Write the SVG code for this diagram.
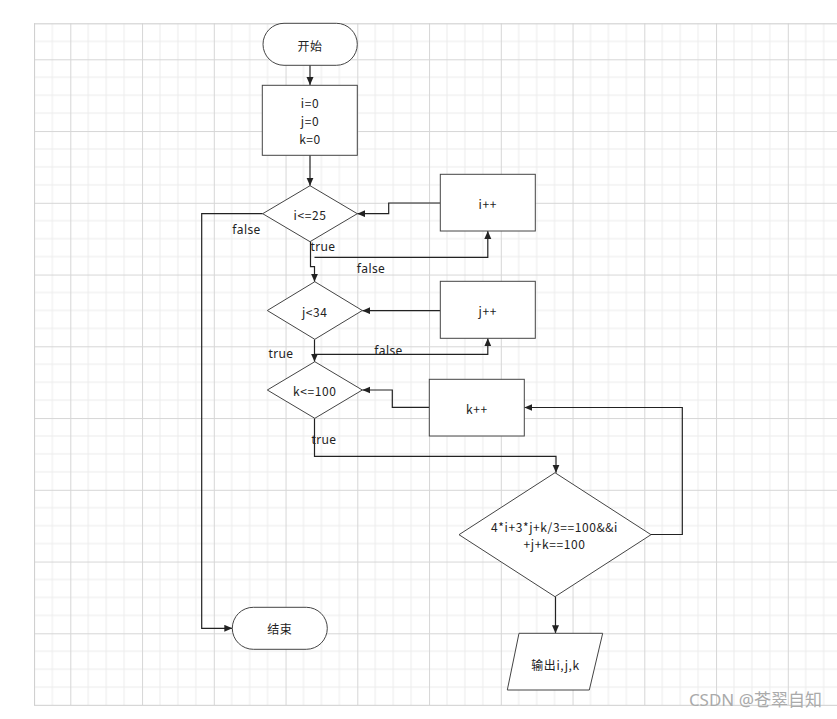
<svg xmlns="http://www.w3.org/2000/svg" width="837" height="719" viewBox="0 0 837 719">
<style>
.shape{fill:#fff;stroke:#444;stroke-width:1}
.conn{fill:none;stroke:#222;stroke-width:1.2}
.t{font-family:"Noto Sans CJK SC","Noto Sans",sans-serif;font-size:12px;fill:#222;text-anchor:middle;dominant-baseline:central;letter-spacing:0.6px}
.lbl{font-family:"Noto Sans","Noto Sans CJK SC",sans-serif;font-size:12px;fill:#222;text-anchor:middle;dominant-baseline:central;letter-spacing:0.4px}
</style>
<defs>
<pattern id="grid" patternUnits="userSpaceOnUse" x="70.3" y="59.3" width="71.75" height="71.75">
<path d="M17.94,0V71.75M35.875,0V71.75M53.81,0V71.75M0,17.94H71.75M0,35.875H71.75M0,53.81H71.75" stroke="#ececec" stroke-width="1" fill="none"/>
<path d="M0.5,0V71.75M0,0.5H71.75" stroke="#d6d6d6" stroke-width="1" fill="none"/>
</pattern>
<marker id="arr" markerUnits="userSpaceOnUse" markerWidth="9" markerHeight="8" refX="8" refY="3.5" orient="auto">
<path d="M0,0 L8,3.5 L0,7 z" fill="#222"/>
</marker>
</defs>
<rect width="837" height="719" fill="#fff"/>
<rect x="34" y="23.3" width="803" height="682" fill="url(#grid)"/>
<path d="M34.5,23.3V705.3M34,23.8H837M34,705.3H837" stroke="#d0d0d0" fill="none"/>

<g id="connectors">
<path class="conn" d="M310,65V85" marker-end="url(#arr)"/>
<path class="conn" d="M310,155V185.7" marker-end="url(#arr)"/>
<path class="conn" d="M440,203H388.7V213.7H357.3" marker-end="url(#arr)"/>
<path class="conn" d="M262.7,213.7H201.7V628.3H232.3" marker-end="url(#arr)"/>
<path class="conn" d="M310.5,241.7V266.7H314.5V281.7" marker-end="url(#arr)"/>
<path class="conn" d="M314.5,257.3H487.8V231" marker-end="url(#arr)"/>
<path class="conn" d="M440.3,310.7H362.3" marker-end="url(#arr)"/>
<path class="conn" d="M314.5,339.3V361.7" marker-end="url(#arr)"/>
<path class="conn" d="M314.5,354.3H487.8V338.3" marker-end="url(#arr)"/>
<path class="conn" d="M429.3,407.3H392.3V390H362.3" marker-end="url(#arr)"/>
<path class="conn" d="M314.5,418.3V456.3H556V472.7" marker-end="url(#arr)"/>
<path class="conn" d="M651,534.5H682.3V407.5H524.3" marker-end="url(#arr)"/>
<path class="conn" d="M555.5,596.7V633.3" marker-end="url(#arr)"/>
<text class="lbl" x="246.5" y="229">false</text>
<text class="lbl" x="323" y="246">true</text>
<text class="lbl" x="371" y="268">false</text>
<text class="lbl" x="281" y="353">true</text>
<text class="lbl" x="388.5" y="350">false</text>
<text class="lbl" x="324" y="439">true</text>
</g>

<g id="start">
<rect class="shape" x="263" y="23.3" width="94.3" height="42" rx="21" ry="21"/>
<text class="t" x="310" y="45">开始</text>
</g>
<g id="init">
<rect class="shape" x="262.3" y="85.3" width="95" height="70"/>
<text class="t" x="310" y="102">i=0</text>
<text class="t" x="310" y="120">j=0</text>
<text class="t" x="310" y="138">k=0</text>
</g>
<g id="cond_i">
<polygon class="shape" points="310,185.7 357.3,213.7 310,241.7 262.7,213.7"/>
<text class="t" x="310" y="214">i&lt;=25</text>
</g>
<g id="inc_i">
<rect class="shape" x="440.3" y="174.3" width="95" height="56.7"/>
<text class="t" x="487.8" y="203">i++</text>
</g>
<g id="cond_j">
<polygon class="shape" points="314.8,281.7 362.3,310.5 314.8,339.3 267.3,310.5"/>
<text class="t" x="314.8" y="311">j&lt;34</text>
</g>
<g id="inc_j">
<rect class="shape" x="440.3" y="281.3" width="95" height="57"/>
<text class="t" x="487.8" y="310">j++</text>
</g>
<g id="cond_k">
<polygon class="shape" points="314.8,361.7 362.3,390 314.8,418.3 267.3,390"/>
<text class="t" x="314.8" y="390">k&lt;=100</text>
</g>
<g id="inc_k">
<rect class="shape" x="429.3" y="379.3" width="95" height="56.7"/>
<text class="t" x="476.8" y="408">k++</text>
</g>
<g id="check">
<polygon class="shape" points="555,472.7 651,534.7 555,596.7 459,534.7"/>
<text class="t" x="554.5" y="526.7">4*i+3*j+k/3==100&amp;&amp;i</text>
<text class="t" x="554.5" y="543.3">+j+k==100</text>
</g>
<g id="output">
<polygon class="shape" points="519,633.3 602.7,633.3 589.3,690 507.3,690"/>
<text class="t" x="555.5" y="664">输出i,j,k</text>
</g>
<g id="end">
<rect class="shape" x="232.3" y="607.3" width="95" height="42" rx="21" ry="21"/>
<text class="t" x="279.8" y="628.5">结束</text>
</g>
<text x="822" y="706" font-family="'Noto Sans','Noto Sans CJK SC',sans-serif" font-size="17" fill="#aaa" text-anchor="end">CSDN @苍翠自知</text>
</svg>
